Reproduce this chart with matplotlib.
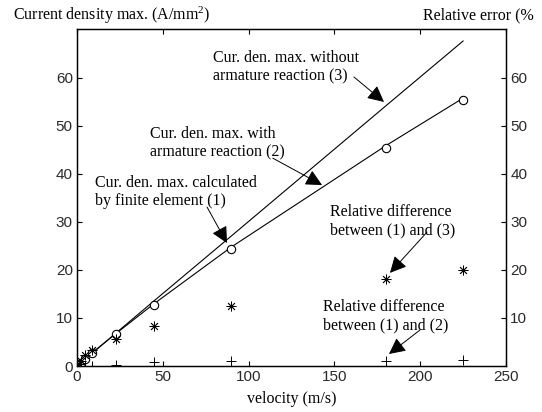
import matplotlib
matplotlib.use("Agg")
import matplotlib.pyplot as plt

plt.rcParams['mathtext.fontset'] = 'custom'
plt.rcParams['mathtext.rm'] = 'Liberation Serif'
plt.rcParams['mathtext.it'] = 'Liberation Serif:italic'

# Data
velocity = [0.9, 2.25, 4.5, 9, 22.5, 45, 90, 180, 225]
cur_fe = [0.3, 0.7, 1.4, 2.8, 6.6, 12.7, 24.4, 45.5, 55.5]          # (1) circles
cur_with_ar = [0.3, 0.7, 1.4, 2.8, 6.7, 13.0, 24.8, 45.9, 55.8]     # (2) line
cur_without_ar = [0.27, 0.68, 1.36, 2.72, 6.8, 13.6, 27.1, 54.2, 67.7]  # (3) line
rel_diff_13 = [0.4, 1.0, 2.3, 3.4, 5.6, 8.4, 12.4, 18.1, 20.0]      # stars
rel_diff_12 = [0.0, 0.05, 0.1, 0.1, 0.2, 0.9, 1.0, 1.1, 1.25]       # plus

xticks = [0, 50, 100, 150, 200, 250]
yticks_left = [0, 10, 20, 30, 40, 50, 60]
yticks_right = [10, 20, 30, 40, 50, 60]

serif = 'Liberation Serif'
sans = 'Liberation Sans'
fs = 11.5
tick_fs = 11
tick_color = '#2a2a2a'

fig = plt.figure(figsize=(5.42, 4.12), dpi=100)
ax = fig.add_axes([77/542, 1-366/412, (506-77)/542, (366-29)/412])
ax2 = ax.twinx()

ax.plot(velocity, cur_without_ar, color='black', lw=0.8)
ax.plot(velocity, cur_with_ar, color='black', lw=0.8)
ax.plot(velocity, cur_fe, linestyle='none', marker='o', mfc='white', mec='black',
        ms=6, mew=0.8)
ax2.plot(velocity, rel_diff_13, linestyle='none', marker=(8, 2, 0), color='black',
         ms=7, mew=0.6)
ax2.plot(velocity, rel_diff_12, linestyle='none', marker='+', color='black',
         ms=7, mew=0.7)

for a in (ax, ax2):
    a.set_xlim(0, 250)
    a.set_ylim(0, 70.2)
ax.set_xticks(xticks)
ax.set_yticks(yticks_left)
ax2.set_yticks(yticks_right)

ax.tick_params(axis='both', direction='in', length=3.5, width=0.8, top=True,
               labelsize=tick_fs, labelcolor=tick_color, pad=3)
ax2.tick_params(axis='y', direction='in', length=3.5, width=0.8,
                labelsize=tick_fs, labelcolor=tick_color, pad=3)
for lab in ax.get_xticklabels() + ax.get_yticklabels() + ax2.get_yticklabels():
    lab.set_fontfamily(sans)
for a in (ax, ax2):
    for s in a.spines.values():
        s.set_linewidth(0.9)

ax.set_xlabel('velocity (m/s)', fontfamily=serif, fontsize=fs, labelpad=5)

fig.text(13/542, 1-15/412, 'Current density max. (A/mm$^{\\mathregular{2}}$)',
         fontfamily=serif, fontsize=fs, va='center', ha='left')
fig.text(423/542, 1-15/412, 'Relative error (%', fontfamily=serif,
         fontsize=fs, va='center', ha='left')

texts = [
    ("Cur. den. max. without\narmature reaction (3)", 79.3, 65.8),
    ("Cur. den. max. with\narmature reaction (2)", 42.5, 50.0),
    ("Cur. den. max. calculated\nby finite element (1)", 10.5, 39.8),
    ("Relative difference\nbetween (1) and (3)", 147.4, 33.75),
    ("Relative difference\nbetween (1) and (2)", 143.4, 14.0),
]
for t, x, y in texts:
    ax.text(x, y, t, fontfamily=serif, fontsize=fs, va='top', ha='left',
            linespacing=1.2, zorder=5)

arrows = [
    ((161.4, 60.2), (178.9, 55.0)),
    ((114.1, 43.3), (142.8, 37.7)),
    ((75.8, 33.1), (87.4, 25.6)),
    ((204.0, 27.9), (182.4, 19.4)),
    ((199.9, 7.5), (181.8, 2.5)),
]
for start, tip in arrows:
    ax.annotate('', xy=tip, xytext=start,
                arrowprops=dict(arrowstyle='-|>,head_length=1.0,head_width=0.5',
                                color='black', lw=0.7, shrinkA=0, shrinkB=0))

fig.savefig('out.png', dpi=100)
